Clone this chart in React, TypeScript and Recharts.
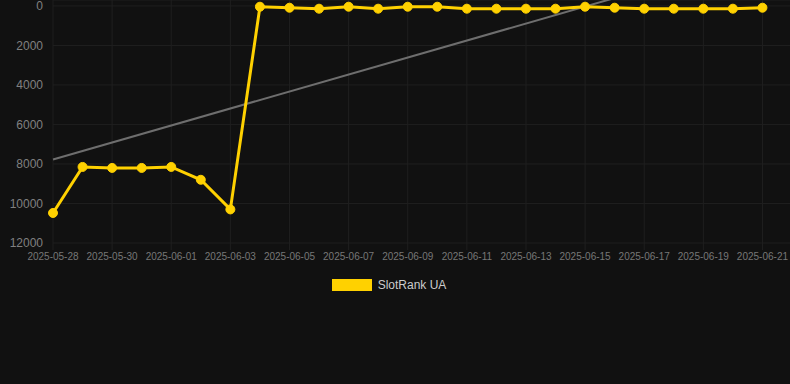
import { CartesianGrid, Legend, Line, LineChart, XAxis, YAxis } from "recharts";

const dates = [
  "2025-05-28", "2025-05-29", "2025-05-30", "2025-05-31", "2025-06-01",
  "2025-06-02", "2025-06-03", "2025-06-04", "2025-06-05", "2025-06-06",
  "2025-06-07", "2025-06-08", "2025-06-09", "2025-06-10", "2025-06-11",
  "2025-06-12", "2025-06-13", "2025-06-14", "2025-06-15", "2025-06-16",
  "2025-06-17", "2025-06-18", "2025-06-19", "2025-06-20", "2025-06-21",
];

const ranks = [
  10480, 8150, 8200, 8200, 8150, 8800, 10300, 40, 90, 140, 40, 140, 40, 40,
  140, 140, 140, 140, 40, 90, 140, 140, 140, 140, 90,
];

// trend line: only its two ends are known, the rest is drawn straight between them
const trendStart = 7770;
const trendEnd = -2550;

const yTicks = [0, 2000, 4000, 6000, 8000, 10000, 12000];
const xTicks = dates.map((_, i) => i).filter((i) => i % 2 === 0);

const data = dates.map((date, i) => ({
  day: i,
  date,
  rank: ranks[i],
  trend: i === 0 ? trendStart : i === dates.length - 1 ? trendEnd : null,
}));

function LegendBox() {
  return (
    <div
      style={{
        display: "flex",
        alignItems: "center",
        justifyContent: "center",
        height: 15,
        fontFamily: "Arial, 'Liberation Sans', sans-serif",
        fontSize: 12,
        color: "#cccccc",
        paddingRight: 12,
      }}
    >
      <span style={{ width: 40, height: 12, background: "#ffd100", marginRight: 6 }} />
      <span>SlotRank UA</span>
    </div>
  );
}

export default function App() {
  return (
    <div
      style={{
        position: "fixed",
        left: 0,
        top: 0,
        width: 790,
        height: 384,
        background: "#111111",
        fontFamily: "Arial, 'Liberation Sans', sans-serif",
      }}
    >
      <LineChart width={790} height={384} data={data} margin={{ top: 0, right: -2, left: 0, bottom: 96 }}>
        <CartesianGrid stroke="#1f1f1f" strokeWidth={1} />
        <XAxis
          dataKey="day"
          type="number"
          domain={[0, 25]}
          ticks={xTicks}
          tickFormatter={(v) => dates[v] ?? ""}
          tick={{ fill: "#777777", fontSize: 10 }}
          axisLine={false}
          tickLine={{ stroke: "#1f1f1f" }}
          tickSize={7}
          tickMargin={3}
          interval={0}
          height={30}
        />
        <YAxis
          reversed
          domain={[-300, 12000]}
          ticks={yTicks}
          interval={0}
          allowDataOverflow
          tick={{ fill: "#808080", fontSize: 12 }}
          axisLine={false}
          tickLine={false}
          tickSize={6}
          tickMargin={4}
          width={53}
        />
        <Line
          dataKey="trend"
          stroke="#6e6e6e"
          strokeWidth={2}
          dot={false}
          connectNulls
          isAnimationActive={false}
          legendType="none"
        />
        <Line
          dataKey="rank"
          name="SlotRank UA"
          stroke="#ffd100"
          strokeWidth={3}
          dot={{ r: 4.5, fill: "#ffd100", stroke: "#ffd100", strokeWidth: 1 }}
          isAnimationActive={false}
        />
        <Legend
          content={<LegendBox />}
          verticalAlign="bottom"
          wrapperStyle={{ top: 277, left: 0, width: 790, height: 15 }}
        />
      </LineChart>
    </div>
  );
}
